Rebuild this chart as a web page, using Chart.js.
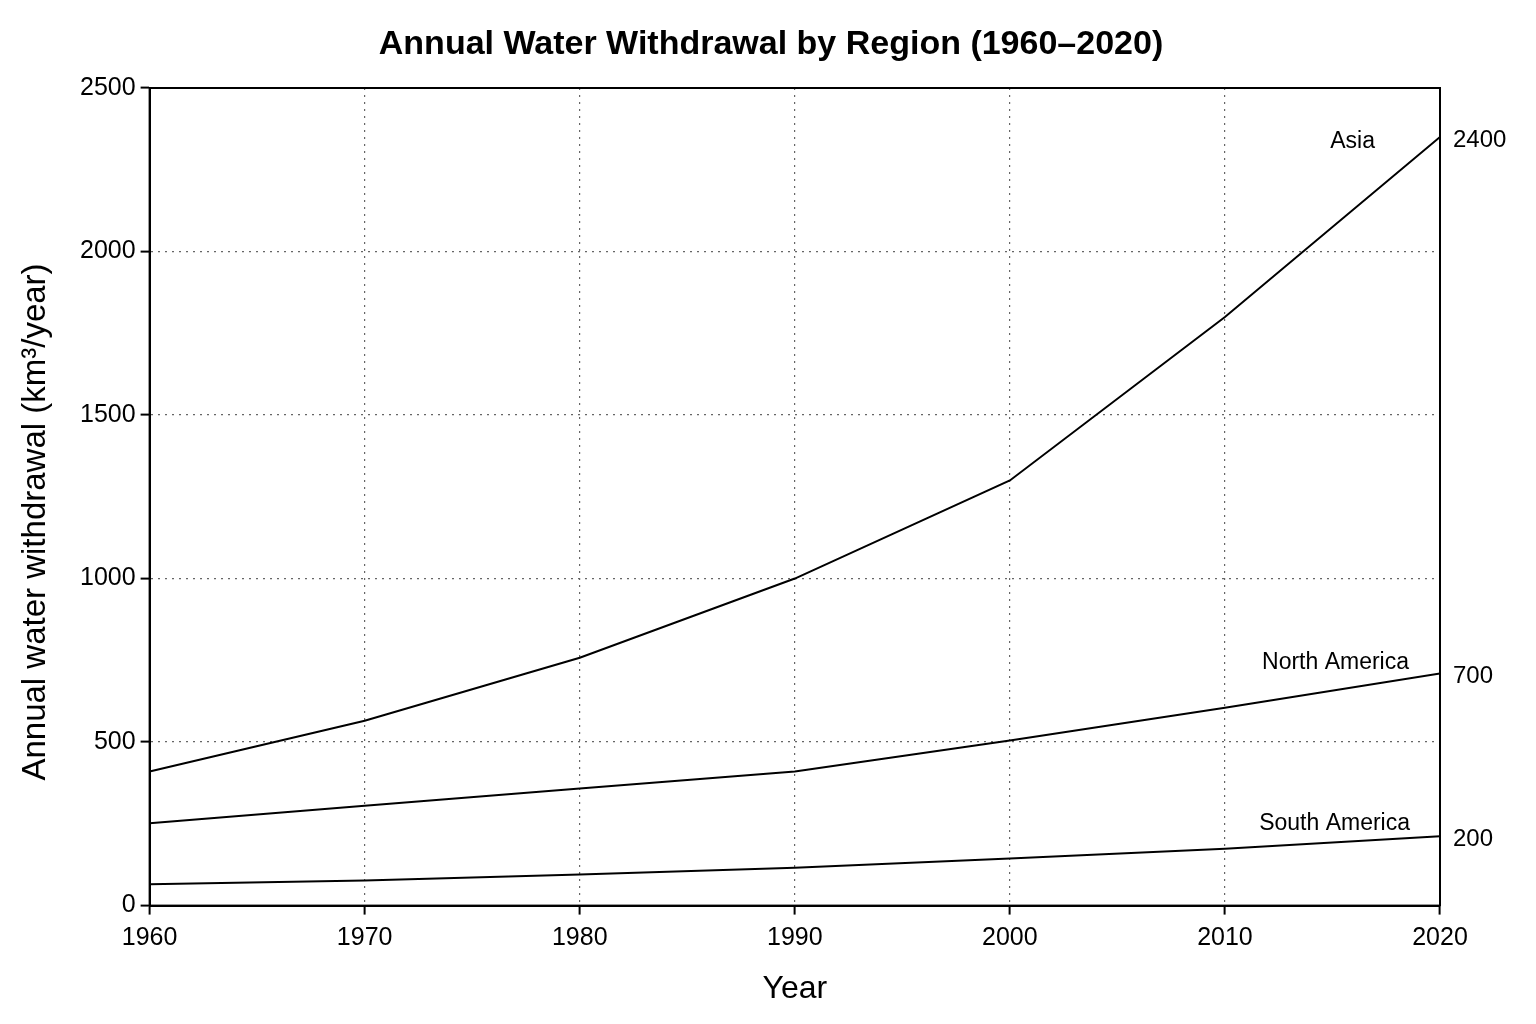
<!DOCTYPE html>
<html>
<head>
<meta charset="utf-8">
<script src="https://cdn.jsdelivr.net/npm/chart.js@4.4.1/dist/chart.umd.min.js"></script>
<style>
  html, body { margin: 0; padding: 0; background: #fff; }
  #wrap { width: 1536px; height: 1024px; }
</style>
</head>
<body>
<div id="wrap"><canvas id="myChart" width="1536" height="1024"></canvas></div>
<script>
const FONT = "'Liberation Sans', Arial, sans-serif";

// data
var years = [1960, 1970, 1980, 1990, 2000, 2010, 2020];
var asia = [410, 565, 758, 1000, 1300, 1800, 2350];
var northAmerica = [252, 305, 358, 410, 505, 605, 710];
var southAmerica = [65, 77, 95, 116, 144, 174, 212];
var regionNames = ["Asia", "North America", "South America"];
var endLabels = ["2400", "700", "200"];
var yTicks = [0, 500, 1000, 1500, 2000, 2500];
var chartTitle = "Annual Water Withdrawal by Region (1960\u20132020)";
var yTitle = "Annual water withdrawal (km\u00b3/year)";

function toPoints(vals) {
    return years.map((yr, i) => ({ x: yr, y: vals[i] }));
}

// titles, box round the plot and the labels at the right end of each line
const labelPlugin = {
    id: "labelPlugin",
    afterDatasetsDraw(chart) {
        const ctx = chart.ctx;
        const a = chart.chartArea;
        ctx.save();
        ctx.strokeStyle = "#000";
        ctx.lineWidth = 2;
        ctx.strokeRect(a.left, a.top, a.right - a.left, a.bottom - a.top);

        ctx.fillStyle = "#000";
        ctx.font = "bold 34px " + FONT;
        ctx.textAlign = "center";
        ctx.textBaseline = "middle";
        ctx.fillText(chartTitle, 771, 45);

        // y axis title, sits a little below the middle of the axis
        ctx.save();
        ctx.translate(36, 522);
        ctx.rotate(-Math.PI / 2);
        ctx.font = "33px " + FONT;
        ctx.fillText(yTitle, 0, 0);
        ctx.restore();

        const xs = chart.scales.x;
        const ys = chart.scales.y;
        const nameOffsets = [[-65, 5], [-31, -11], [-30, -13]];
        chart.data.datasets.forEach((ds, i) => {
            const last = ds.data[ds.data.length - 1];
            const px = xs.getPixelForValue(last.x);
            const py = ys.getPixelForValue(last.y);
            ctx.font = "24px " + FONT;
            ctx.textAlign = "left";
            ctx.fillText(endLabels[i], px + 13, py + 3);
            ctx.font = "23px " + FONT;
            ctx.textAlign = "right";
            ctx.fillText(regionNames[i], px + nameOffsets[i][0], py + nameOffsets[i][1]);
        });
        ctx.restore();
    }
};

function makeSet(label, vals) {
    return {
        label: label,
        data: toPoints(vals),
        borderColor: "#000",
        borderWidth: 2,
        pointRadius: 0,
        tension: 0,
        fill: false
    };
}

const chartData = {
    datasets: [
        makeSet(regionNames[0], asia),
        makeSet(regionNames[1], northAmerica),
        makeSet(regionNames[2], southAmerica)
    ]
};

const gridOpts = {
    color: "#666",
    lineWidth: 1.2,
    tickColor: "#000",
    tickLength: 9,
    tickBorderDash: [],
    tickWidth: 2
};

const config = {
    type: "line",
    data: chartData,
    plugins: [labelPlugin],
    options: {
        responsive: false,
        animation: false,
        layout: { padding: { left: 75, right: 96, top: 88, bottom: 12 } },
        plugins: {
            legend: { display: false },
            tooltip: { enabled: false },
            title: { display: false }
        },
        scales: {
            x: {
                type: "linear",
                min: 1960,
                max: 2020,
                afterBuildTicks: (s) => { s.ticks = years.map(v => ({ value: v })); },
                ticks: {
                    color: "#000",
                    font: { family: FONT, size: 25 },
                    padding: 9,
                    callback: (v) => String(v)
                },
                grid: gridOpts,
                border: { display: true, color: "#000", width: 2, dash: [2, 5] },
                title: {
                    display: true,
                    text: "Year",
                    color: "#000",
                    font: { family: FONT, size: 32 },
                    padding: { top: 7 }
                }
            },
            y: {
                min: 0,
                max: 2500,
                afterBuildTicks: (s) => { s.ticks = yTicks.map(v => ({ value: v })); },
                ticks: {
                    color: "#000",
                    font: { family: FONT, size: 25 },
                    padding: 5,
                    callback: (v) => String(v)
                },
                grid: gridOpts,
                border: { display: true, color: "#000", width: 2, dash: [2, 5] },
                title: { display: false }
            }
        }
    }
};

var myChart = new Chart(document.getElementById("myChart"), config);
</script>
</body>
</html>
